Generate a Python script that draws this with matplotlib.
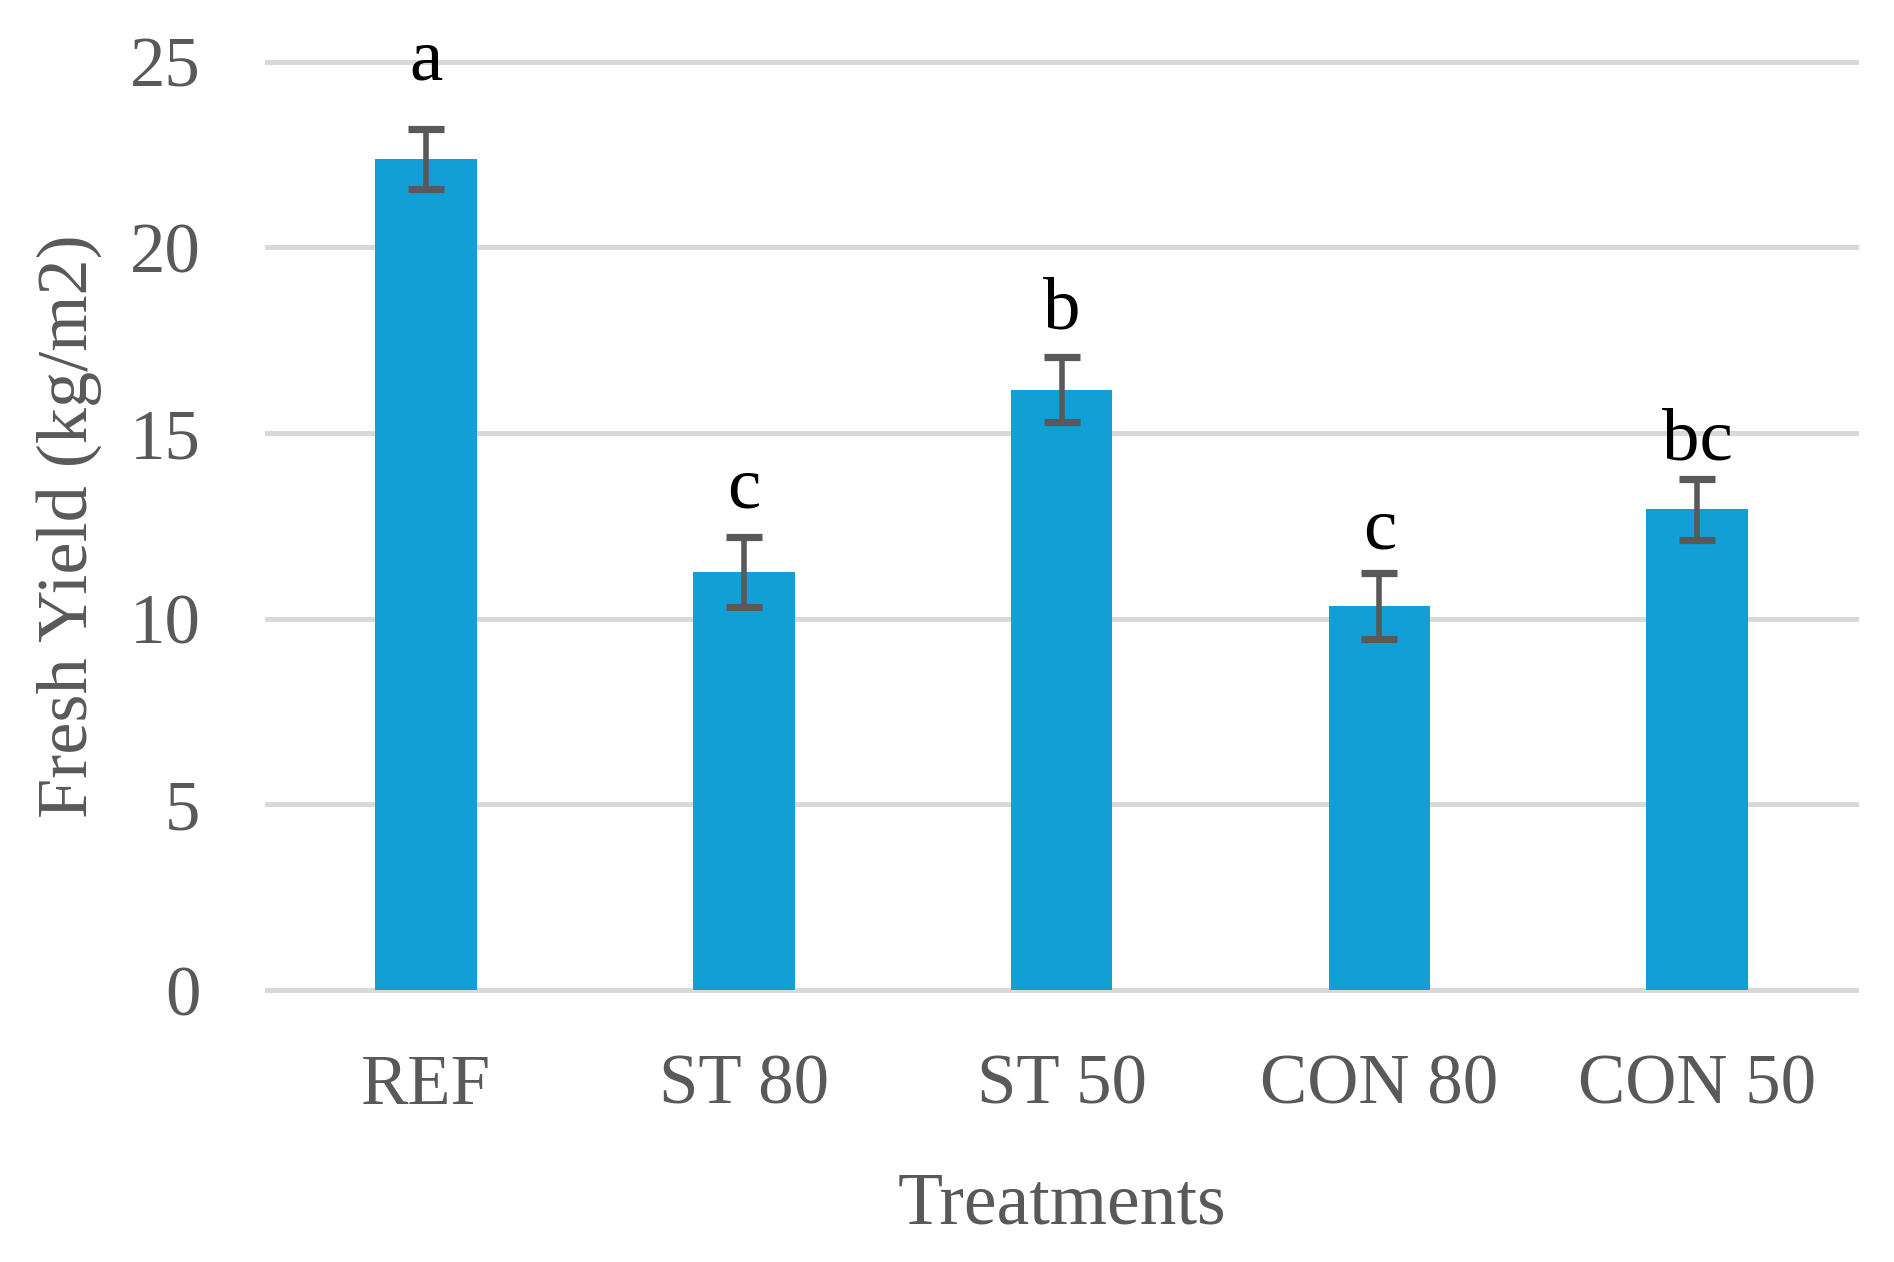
import matplotlib
matplotlib.use("Agg")
import matplotlib.pyplot as plt
import numpy as np

categories = ["REF", "ST 80", "ST 50", "CON 80", "CON 50"]
values = [22.38, 11.26, 16.17, 10.34, 12.95]
errors = [0.81, 0.93, 0.88, 0.88, 0.82]
letters = ["a", "c", "b", "c", "bc"]
letter_offsets = [1.34, 0.81, 0.76, 0.66, 0.51]
yticks = [0, 5, 10, 15, 20, 25]

plt.rcParams['font.family'] = ['Liberation Serif', 'DejaVu Serif']
grey = "#595959"

fig = plt.figure(figsize=(9.47, 6.31), dpi=200)
ax = fig.add_axes([0.141, 0.2155, 0.839, 0.7355])

x = np.arange(len(categories))
ax.bar(x, values, width=0.32, color="#119FD6", zorder=3)
ax.errorbar(x, values, yerr=errors, fmt="none", ecolor=grey, elinewidth=2.0,
            capsize=6.5, capthick=2.6, zorder=4)
for xi, v, e, l, o in zip(x, values, errors, letters, letter_offsets):
    ax.text(xi, v + e + o, l, ha="center", va="baseline", fontsize=27, color="black")

ax.set_xlim(-0.5, len(categories) - 0.5)
ax.set_ylim(0, 25)
ax.set_yticks(yticks)
ax.set_xticks(x)
ax.set_xticklabels(categories)
for yt in yticks:
    ax.axhline(yt, color="#D9D9D9", lw=1.8, zorder=1, clip_on=False)
for s in ax.spines.values():
    s.set_visible(False)
ax.tick_params(axis="both", length=0, labelsize=25.5, labelcolor=grey)
ax.tick_params(axis="y", pad=24)
ax.tick_params(axis="x", pad=23)
ax.set_xlabel("Treatments", fontsize=26.5, color=grey, labelpad=19)
ax.set_ylabel("Fresh Yield (kg/m2)", fontsize=26, color=grey)
ax.yaxis.set_label_coords(-0.104, 0.5)

fig.savefig("out.png", dpi=200, facecolor="white")
